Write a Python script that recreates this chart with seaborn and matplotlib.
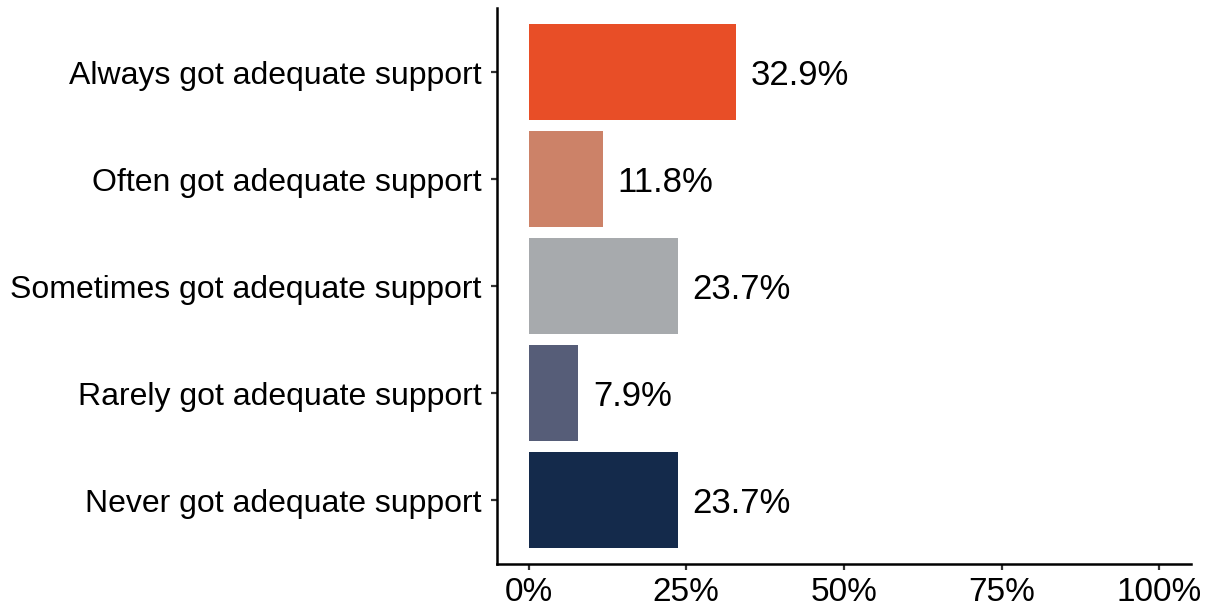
import matplotlib
matplotlib.use('Agg')
import matplotlib.pyplot as plt
import seaborn as sns
import pandas as pd

categories = ['Always got adequate support', 'Often got adequate support',
              'Sometimes got adequate support', 'Rarely got adequate support',
              'Never got adequate support']
shares = [32.9, 11.8, 23.7, 7.9, 23.7]
colours = ['#E84E27', '#CC8268', '#A7AAAD', '#565D78', '#142A4B']
x_ticks = [0, 25, 50, 75, 100]
x_tick_labels = ['0%', '25%', '50%', '75%', '100%']

sns.set_style('white')
plt.rcParams['font.family'] = ['Liberation Sans', 'DejaVu Sans']

df = pd.DataFrame({'category': categories, 'share': shares})

fig = plt.figure(figsize=(12.07, 6.10), dpi=100)
ax = fig.add_axes([0.4118, 0.075, 0.5749, 0.912])

sns.barplot(data=df, x='share', y='category', hue='category', order=categories,
            hue_order=categories, palette=colours, orient='h', width=0.9,
            legend=False, saturation=1, linewidth=0, ax=ax)

# value labels to the right of each bar
for i, v in enumerate(shares):
    ax.text(v + 2.3, i + 0.03, f'{v}%', va='center', ha='left', fontsize=25, color='black')

ax.set_xlim(-5, 105)
ax.set_ylim(4.6, -0.6)
ax.set_xticks(x_ticks)
ax.set_xticklabels(x_tick_labels)
ax.set_xlabel('')
ax.set_ylabel('')
ax.tick_params(axis='both', bottom=True, left=True, colors='#333333',
               length=4, width=1.6, labelcolor='black', pad=5)
ax.tick_params(axis='x', labelsize=24)
ax.tick_params(axis='y', labelsize=23, pad=7)

for s in ['top', 'right']:
    ax.spines[s].set_visible(False)
for s in ['left', 'bottom']:
    ax.spines[s].set_color('black')
    ax.spines[s].set_linewidth(1.8)

fig.savefig('out.png', dpi=100)
